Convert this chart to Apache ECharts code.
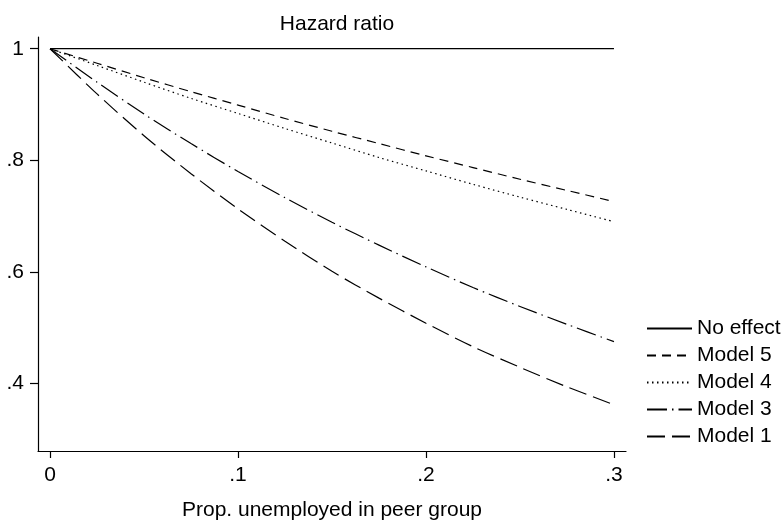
<!DOCTYPE html>
<html>
<head>
<meta charset="utf-8">
<script src="https://cdn.jsdelivr.net/npm/echarts@6/dist/echarts.min.js"></script>
<style>html,body{margin:0;padding:0;background:#fff}#c{width:784px;height:526px}</style>
</head>
<body>
<div id="c"></div>
<script>
const xValues = [0, 0.025, 0.05, 0.075, 0.1, 0.125, 0.15, 0.175, 0.2, 0.225, 0.25, 0.275, 0.3];
const noEffect = [1, 1, 1, 1, 1, 1, 1, 1, 1, 1, 1, 1, 1];
const model5 = [1, 0.974, 0.948, 0.923, 0.899, 0.875, 0.852, 0.830, 0.808, 0.787, 0.766, 0.746, 0.726];
const model4 = [1, 0.970, 0.940, 0.911, 0.884, 0.857, 0.831, 0.805, 0.781, 0.757, 0.734, 0.712, 0.690];
const model3 = [1, 0.940, 0.883, 0.830, 0.780, 0.733, 0.689, 0.648, 0.609, 0.572, 0.538, 0.506, 0.475];
const model1 = [1, 0.919, 0.844, 0.776, 0.713, 0.655, 0.601, 0.553, 0.508, 0.466, 0.429, 0.394, 0.362];
const xTicks = [0, 0.1, 0.2, 0.3];
const yTicks = [0.4, 0.6, 0.8, 1];
const seriesNames = ['No effect', 'Model 5', 'Model 4', 'Model 3', 'Model 1'];

const FONT = 'Liberation Sans, Arial, Helvetica, sans-serif';
const fmt = v => { const s = String(+v.toFixed(2)); return s.startsWith('0.') ? s.slice(1) : s; };
const pair = arr => xValues.map((x, i) => [x, arr[i]]);
const dashes = [
  'solid',
  [9, 6],
  [1.5, 3.5],
  [20, 5, 1.5, 5],
  [18, 7]
];
const dataSets = [noEffect, model5, model4, model3, model1];

const chart = echarts.init(document.getElementById('c'));
chart.setOption({
  animation: false,
  backgroundColor: '#fff',
  title: {
    text: 'Hazard ratio', left: 332, top: 9, textAlign: 'center',
    textStyle: { fontFamily: FONT, fontSize: 21, fontWeight: 'normal', color: '#000' }
  },
  grid: { left: 38, right: 158, top: 37, bottom: 72, containLabel: false },
  legend: {
    data: seriesNames, orient: 'vertical', left: 641, top: 313,
    itemWidth: 45, itemHeight: 14, itemGap: 6,
    itemStyle: { opacity: 0 },
    textStyle: { fontFamily: FONT, fontSize: 21, color: '#000', lineHeight: 21 },
    inactiveColor: '#000'
  },
  xAxis: {
    type: 'value', min: -0.0064, max: 0.3064,
    name: 'Prop. unemployed in peer group', nameLocation: 'middle', nameGap: 49,
    nameTextStyle: { fontFamily: FONT, fontSize: 21, color: '#000', verticalAlign: 'top' },
    axisLine: { show: true, onZero: false, lineStyle: { color: '#000', width: 1.2 } },
    axisTick: { show: true, customValues: xTicks, length: 7, lineStyle: { color: '#000', width: 1.2 } },
    axisLabel: { customValues: xTicks, formatter: fmt, fontFamily: FONT, fontSize: 21, color: '#000', margin: 14 },
    splitLine: { show: false }
  },
  yAxis: {
    type: 'value', min: 0.279, max: 1.021,
    axisLine: { show: true, onZero: false, lineStyle: { color: '#000', width: 1.2 } },
    axisTick: { show: true, customValues: yTicks, length: 8, lineStyle: { color: '#000', width: 1.2 } },
    axisLabel: { customValues: yTicks, formatter: fmt, fontFamily: FONT, fontSize: 21, color: '#000', margin: 14 },
    splitLine: { show: false }
  },
  series: seriesNames.map((n, i) => ({
    name: n, type: 'line', data: pair(dataSets[i]), symbol: 'none', smooth: 0.3,
    itemStyle: { color: '#000' },
    lineStyle: { color: '#000', width: 1.2, type: dashes[i] }
  }))
});
</script>
</body>
</html>
